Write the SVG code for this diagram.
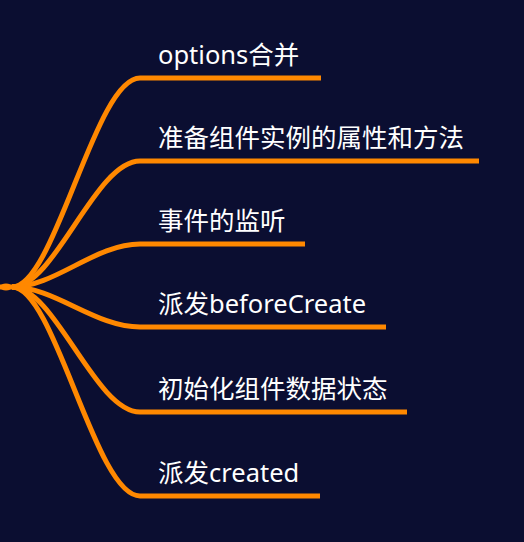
<svg xmlns="http://www.w3.org/2000/svg" width="524" height="542" viewBox="0 0 524 542">
  <style>
    .bg { fill: #0b0e31; }
    .edge { fill: none; stroke: #ff8800; stroke-width: 5; stroke-linecap: butt; stroke-linejoin: round; }
    .label { font-family: "Noto Sans", "Noto Sans CJK SC", sans-serif; font-size: 25.5px; fill: #ffffff; }
  </style>
  <rect class="bg" x="0" y="0" width="524" height="542"/>
  <g id="connectors">
    <path class="edge" d="M0,287 L12,287"/>
    <path class="edge" d="M12,287 C55,287 95,78 140,78 L321,78"/>
    <path class="edge" d="M12,287 C55,287 95,161 140,161 L479,161"/>
    <path class="edge" d="M12,287 C55,287 95,244 140,244 L305,244"/>
    <path class="edge" d="M12,287 C55,287 95,327 140,327 L386,327"/>
    <path class="edge" d="M12,287 C55,287 95,412 140,412 L407,412"/>
    <path class="edge" d="M12,287 C55,287 95,496 140,496 L320,496"/>
  </g>
  <g id="root"><ellipse cx="6" cy="287" rx="6" ry="3.5" fill="#ff8800"/></g>
  <g id="node1"><text class="label" x="158" y="64">options合并</text></g>
  <g id="node2"><text class="label" x="158" y="147">准备组件实例的属性和方法</text></g>
  <g id="node3"><text class="label" x="158" y="230">事件的监听</text></g>
  <g id="node4"><text class="label" x="158" y="313">派发beforeCreate</text></g>
  <g id="node5"><text class="label" x="158" y="398">初始化组件数据状态</text></g>
  <g id="node6"><text class="label" x="158" y="482">派发created</text></g>
</svg>
